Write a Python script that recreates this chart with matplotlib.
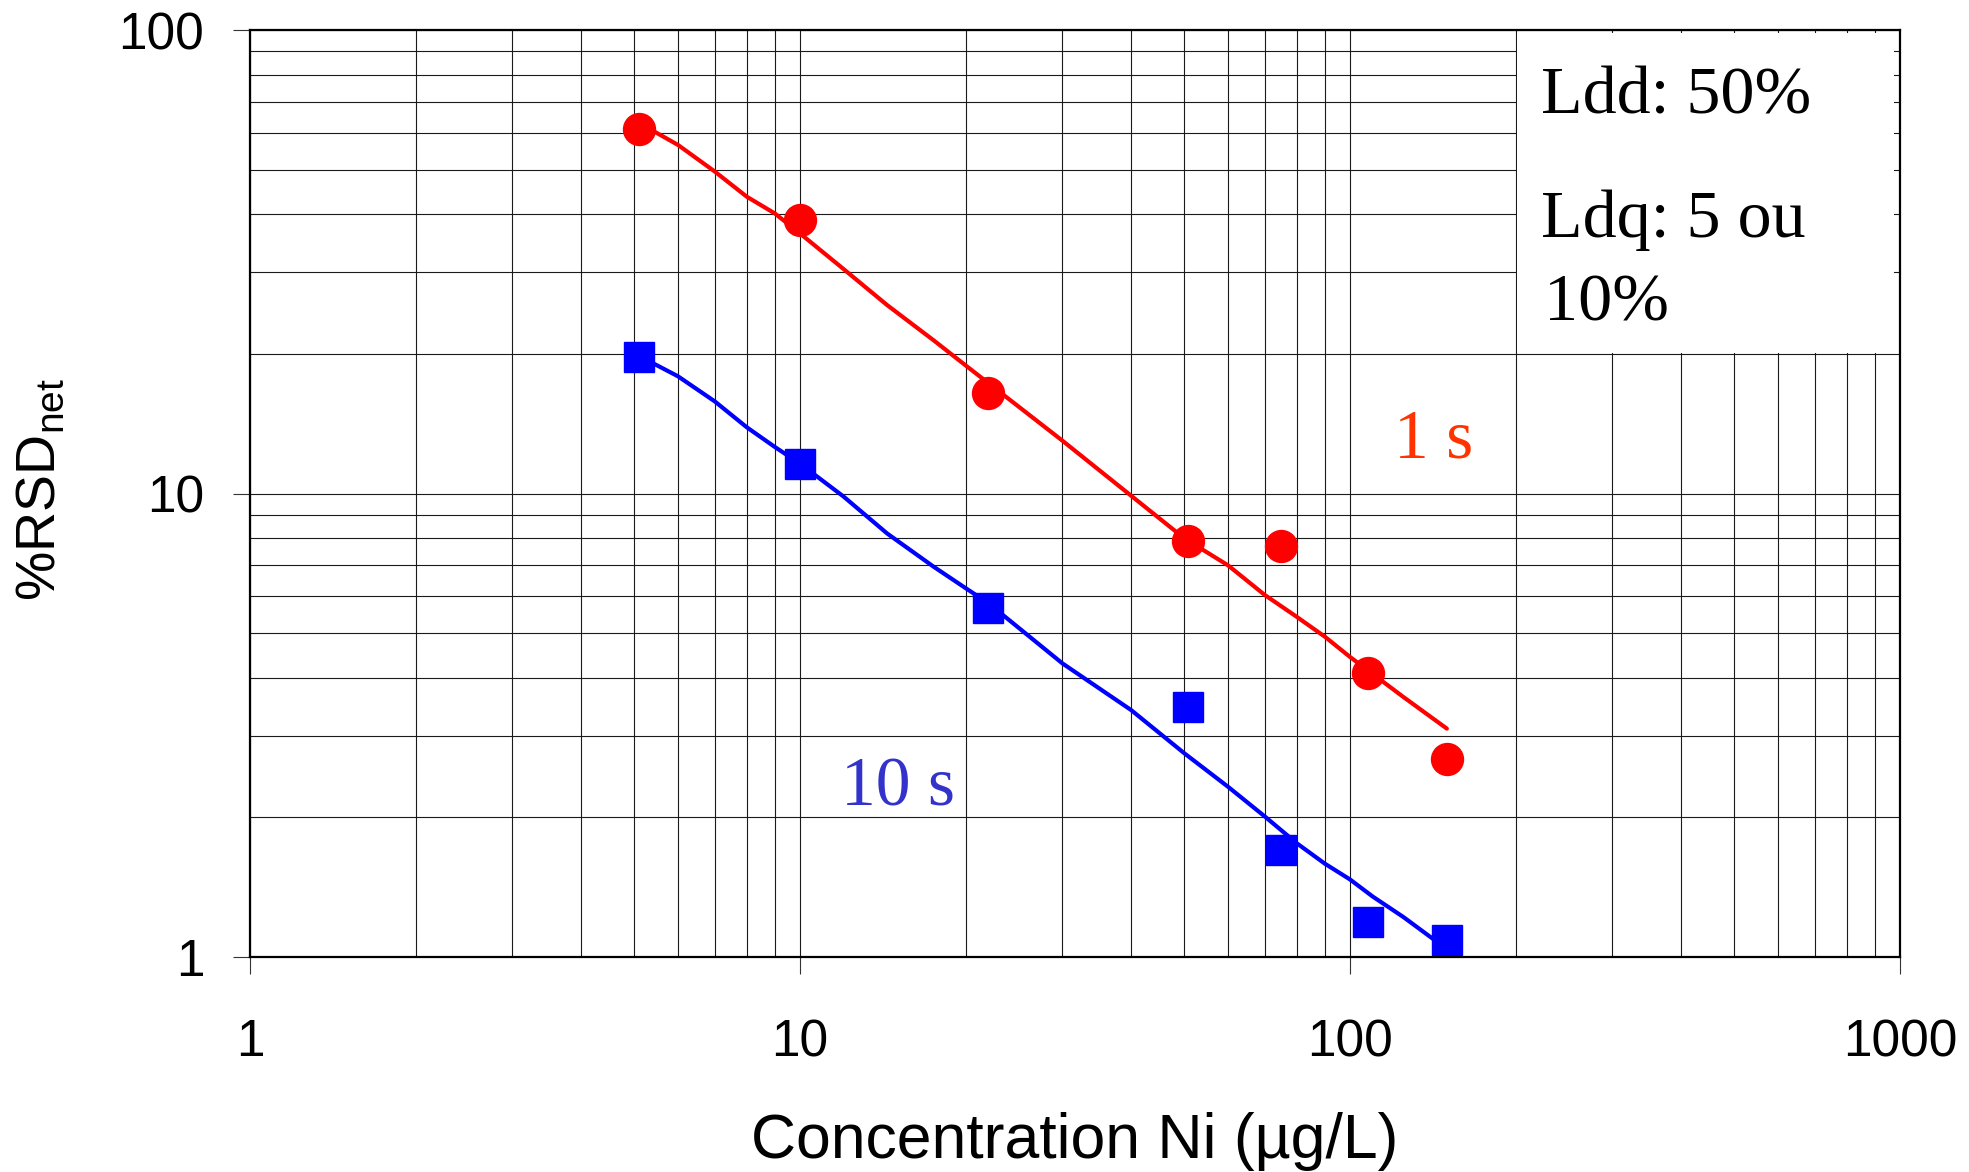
import matplotlib
matplotlib.use("Agg")
import matplotlib.pyplot as plt
from matplotlib.patches import Rectangle
import math

# ---- data ----
conc = [5.1, 10, 22, 50.7, 75, 108, 150]
rsd_1s = [61, 39, 16.5, 7.9, 7.7, 4.1, 2.67]
rsd_10s = [19.7, 11.6, 5.65, 3.47, 1.70, 1.19, 1.09]

fit_x_1s = [5.1, 6, 7, 8, 9, 10, 12, 14.4, 17.5, 20, 30, 50, 60, 70, 80, 90, 100, 125, 150]
fit_y_1s = [63, 56.5, 49.5, 43.7, 40.2, 36.4, 30.5, 25.5, 21.4, 18.9, 13.0, 8.0, 7.0, 6.04, 5.42, 4.91, 4.44, 3.64, 3.11]

fit_x_10s = [5.1, 6, 7, 8, 9, 10, 12, 14.4, 17.5, 20, 22, 30, 40, 50, 60, 70, 80, 90, 100, 110, 125, 150]
fit_y_10s = [19.8, 17.9, 15.8, 13.9, 12.6, 11.6, 9.85, 8.2, 6.95, 6.25, 5.8, 4.30, 3.41, 2.75, 2.33, 2.01, 1.76, 1.59, 1.47, 1.35, 1.22, 1.04]

x_ticks = [1, 10, 100, 1000]
x_ticklabels = ["1", "10", "100", "1000"]
y_ticks = [1, 10, 100]
y_ticklabels = ["1", "10", "100"]

W, H = 1969, 1172
fig = plt.figure(figsize=(W / 100, H / 100), dpi=100)
L, R, T, B = 250, 1900, 30, 957
ax = fig.add_axes([L / W, 1 - B / H, (R - L) / W, (B - T) / H])

sans = "Liberation Sans"
serif = "Liberation Serif"

ax.set_xscale("log")
ax.set_yscale("log")
ax.set_xlim(1, 1000)
ax.set_ylim(1, 100)

ax.set_axisbelow(True)
ax.grid(True, which="both", color="#1a1a1a", lw=0.8)

# white box hiding the grid behind the annotation
aw, ah = R - L, B - T
x0 = math.log10(200) / 3 + 1.0 / aw
y0 = math.log10(20) / 2 + 1.0 / ah
ax.add_patch(Rectangle((x0, y0), (1 - 6.0 / aw) - x0, (1 - 3.0 / ah) - y0,
                       transform=ax.transAxes, facecolor="white", edgecolor="none", zorder=1))

ax.plot(fit_x_1s, fit_y_1s, color="#ff0000", lw=3.0, zorder=2, solid_capstyle="round")
ax.plot(fit_x_10s, fit_y_10s, color="#0000ff", lw=3.0, zorder=2, solid_capstyle="round")
ax.plot(conc, rsd_1s, linestyle="none", marker="o", markersize=23, color="#ff0000", zorder=3)
ax.plot(conc, rsd_10s, linestyle="none", marker="s", markersize=22, color="#0000ff", zorder=3)

ax.set_xticks(x_ticks)
ax.set_xticklabels(x_ticklabels, fontname=sans, fontsize=37)
ax.set_yticks(y_ticks)
ax.set_yticklabels(y_ticklabels, fontname=sans, fontsize=37)
ax.minorticks_on()
ax.tick_params(which="minor", length=0)
ax.tick_params(which="major", direction="out", length=12, width=0.8, color="#333333")
ax.tick_params(axis="x", pad=32)
ax.tick_params(axis="y", pad=21)

for s in ax.spines.values():
    s.set_linewidth(1.6)
    s.set_color("black")
    s.set_zorder(5)

ax.set_xlabel("Concentration Ni (µg/L)", fontname=sans, fontsize=45, va="baseline")
ax.xaxis.set_label_coords(0.5, (B - 1158) / ah)
plt.rcParams["mathtext.fontset"] = "custom"
plt.rcParams["mathtext.rm"] = sans
ax.set_ylabel(r"%RSD$_\mathregular{net}$", fontname=sans, fontsize=40, va="center")
ax.yaxis.set_label_coords((41 - L) / aw, (B - 490) / ah)


def ftext(px, py, s, **kw):
    fig.text(px / W, 1 - py / H, s, va="baseline", ha="left", **kw)


ftext(1541, 113, "Ldd: 50%", fontname=serif, fontsize=49, color="black", zorder=6)
ftext(1541, 237, "Ldq: 5 ou", fontname=serif, fontsize=49, color="black", zorder=6)
ftext(1544, 320, "10%", fontname=serif, fontsize=49, color="black", zorder=6)
ftext(1394, 458, "1 s", fontname=serif, fontsize=50, color="#ff3300", zorder=6)
ftext(841, 806, "10 s", fontname=serif, fontsize=50, color="#3333cc", zorder=6)

fig.savefig("out.png", dpi=100)
